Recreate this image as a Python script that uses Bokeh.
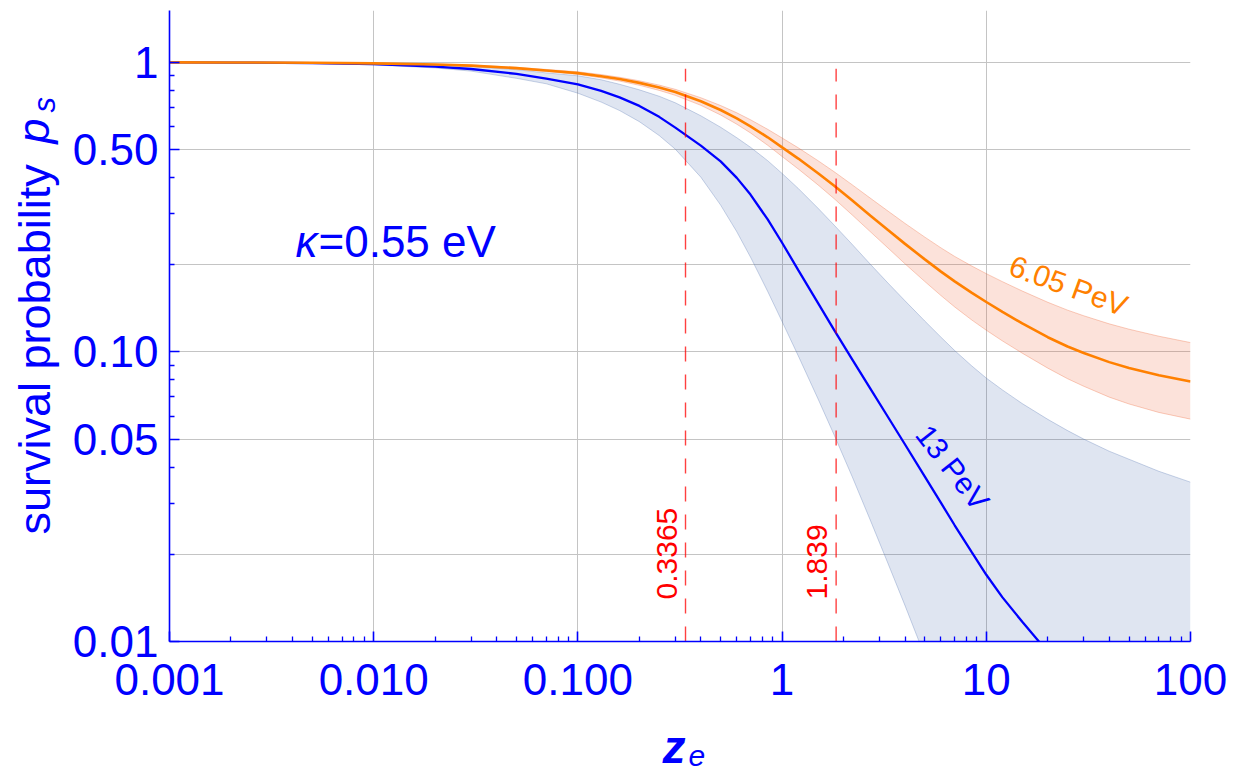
import math
from bokeh.plotting import figure
from bokeh.models import Range1d, FixedTicker, Label
from bokeh.layouts import row, column
from bokeh.embed import file_html
from bokeh.resources import INLINE

NaN = float("nan")

# ---------------- data ----------------
z_e = [0.001, 0.002, 0.005, 0.01, 0.02, 0.03, 0.05, 0.07, 0.1, 0.13, 0.16, 0.2, 0.25, 0.3,
       0.4, 0.5, 0.6, 0.7, 0.85, 1, 1.2, 1.5, 1.8, 2.2, 2.7, 3.3, 4, 5, 6, 7, 8.5, 10,
       12, 15, 20, 25, 30, 40, 50, 70, 100]

# 13 PeV: central curve and band
ps_13PeV = [1.0, 0.9982, 0.9943, 0.9851, 0.9660, 0.9484, 0.9120, 0.8790, 0.8396, 0.7966,
            0.7570, 0.7071, 0.6483, 0.5952, 0.5155, 0.4549, 0.3990, 0.3494, 0.2867, 0.2382,
            0.1917, 0.1474, 0.1190, 0.0945, 0.0748, 0.0596, 0.0479, 0.0371, 0.0301, 0.0252,
            0.0203, 0.0170, 0.0142, 0.0117, 0.0092, NaN, NaN, NaN, NaN, NaN, NaN]
ps_13PeV_hi = [1.0, 0.9992, 0.9976, 0.9921, 0.9796, 0.9680, 0.9430, 0.9194, 0.8984, 0.8705,
               0.8398, 0.8036, 0.7636, 0.7248, 0.6538, 0.5969, 0.5491, 0.5090, 0.4575, 0.4133,
               0.3668, 0.3134, 0.2739, 0.2355, 0.2011, 0.1729, 0.1501, 0.1278, 0.1124, 0.1011,
               0.0894, 0.0812, 0.0739, 0.0663, 0.0585, 0.0535, 0.0500, 0.0454, 0.0426, 0.0387,
               0.0355]
ps_13PeV_lo = [1.0, 0.9976, 0.9921, 0.9796, 0.9565, 0.9325, 0.8807, 0.8431, 0.7824, 0.7291,
               0.6815, 0.6240, 0.5588, 0.5012, 0.4013, 0.3213, 0.2599, 0.2126, 0.1618, 0.1273,
               0.0969, 0.0688, 0.0516, 0.0372, 0.0263, 0.0186, 0.0133, 0.0089, 0.0064, 0.0048,
               0.0034, 0.0025, 0.0018, 0.0012, 0.0007, 0.0005, 0.0003, 0.0002, 0.00013, 0.00007,
               0.00004]

# 6.05 PeV: central curve and band
ps_605PeV = [1.0, 0.9988, 0.9966, 0.9920, 0.9829, 0.9739, 0.9550, 0.9376, 0.9180, 0.8957,
             0.8754, 0.8492, 0.8187, 0.7897, 0.7340, 0.6844, 0.6402, 0.6012, 0.5510, 0.5087,
             0.4652, 0.4142, 0.3747, 0.3338, 0.2960, 0.2636, 0.2361, 0.2087, 0.1893, 0.1752,
             0.1600, 0.1487, 0.1374, 0.1254, 0.1124, 0.1044, 0.0991, 0.0922, 0.0880, 0.0831,
             0.0790]
ps_605PeV_hi = [1.0, 0.9996, 0.9982, 0.9944, 0.9868, 0.9786, 0.9611, 0.9451, 0.9275, 0.9072,
                0.8880, 0.8635, 0.8344, 0.8068, 0.7547, 0.7093, 0.6693, 0.6335, 0.5871, 0.5481,
                0.5068, 0.4574, 0.4188, 0.3781, 0.3399, 0.3065, 0.2778, 0.2491, 0.2287, 0.2137,
                0.1979, 0.1863, 0.1748, 0.1623, 0.1484, 0.1394, 0.1333, 0.1250, 0.1198, 0.1133,
                0.1077]
ps_605PeV_lo = [1.0, 0.9980, 0.9950, 0.9896, 0.9790, 0.9685, 0.9482, 0.9294, 0.9086, 0.8837,
                0.8616, 0.8332, 0.8001, 0.7692, 0.7105, 0.6578, 0.6114, 0.5705, 0.5171, 0.4729,
                0.4283, 0.3772, 0.3380, 0.2975, 0.2603, 0.2285, 0.2014, 0.1750, 0.1565, 0.1430,
                0.1288, 0.1188, 0.1091, 0.0990, 0.0879, 0.0808, 0.0761, 0.0698, 0.0661, 0.0618,
                0.0586]

z_marks = [0.3365, 1.839]
z_mark_labels = ["0.3365", "1.839"]
mark_bottom = [0.01, 0.01]
mark_top = [0.95, 0.95]

x_ticks = [0.001, 0.01, 0.1, 1, 10, 100]
x_tick_labels = ["0.001", "0.010", "0.100", "1", "10", "100"]
x_minor = [m * 10.0 ** e for e in range(-3, 2) for m in range(2, 10)]
x_grid = [0.01, 0.1, 1, 10, 100]

y_ticks = [0.01, 0.05, 0.1, 0.5, 1]
y_tick_labels = ["0.01", "0.05", "0.10", "0.50", "1"]
y_minor = [m * 10.0 ** e for e in (-2, -1) for m in range(2, 10) if m != 5]
y_grid = [0.02, 0.05, 0.1, 0.2, 0.5, 1]

# ---------------- styling ----------------
BLUE = "#0000ff"
ORANGE = "#ff8000"
RED = "#ff0000"
FONT = "Liberation Sans"

LEFT_W = 64
BOTTOM_H = 52
W, H = 1242, 772

p = figure(width=W - LEFT_W, height=H - BOTTOM_H, x_axis_type="log", y_axis_type="log",
           x_range=Range1d(0.001, 100), y_range=Range1d(0.01, 1.51),
           output_backend="svg", toolbar_location=None,
           min_border_left=105, min_border_right=52,
           min_border_top=10, min_border_bottom=79)
p.outline_line_color = None
p.background_fill_color = "white"
p.border_fill_color = "white"

for ax in (p.xaxis[0], p.yaxis[0]):
    ax.axis_line_color = BLUE
    ax.axis_line_width = 1.6
    ax.major_tick_line_color = BLUE
    ax.major_tick_line_width = 1.6
    ax.minor_tick_line_color = BLUE
    ax.minor_tick_line_width = 1.3
    ax.major_tick_in = 10
    ax.major_tick_out = 0
    ax.minor_tick_in = 5
    ax.minor_tick_out = 0
    ax.major_label_text_color = BLUE
    ax.major_label_text_font = FONT
    ax.major_label_text_font_size = "44px"

p.xaxis.ticker = FixedTicker(ticks=x_ticks, minor_ticks=x_minor)
p.xaxis.major_label_overrides = dict(zip(x_ticks, x_tick_labels))
p.xaxis.major_label_standoff = 22
p.yaxis.ticker = FixedTicker(ticks=y_ticks, minor_ticks=y_minor)
p.yaxis.major_label_overrides = dict(zip(y_ticks, y_tick_labels))
p.yaxis.major_label_standoff = 11

p.xgrid.ticker = FixedTicker(ticks=x_grid)
p.ygrid.ticker = FixedTicker(ticks=y_grid)
for g in (p.xgrid[0], p.ygrid[0]):
    g.grid_line_color = "#c4c4c4"
    g.grid_line_width = 1

# ---------------- bands ----------------
p.varea(x=z_e, y1=ps_13PeV_lo, y2=ps_13PeV_hi, fill_color="#2850a0", fill_alpha=0.15)
p.line(z_e, ps_13PeV_hi, line_color="#5070b0", line_alpha=0.3, line_width=1)
p.line(z_e, ps_13PeV_lo, line_color="#5070b0", line_alpha=0.3, line_width=1)

p.varea(x=z_e, y1=ps_605PeV_lo, y2=ps_605PeV_hi, fill_color="#f06030", fill_alpha=0.18)
p.line(z_e, ps_605PeV_hi, line_color="#f06030", line_alpha=0.3, line_width=1)
p.line(z_e, ps_605PeV_lo, line_color="#f06030", line_alpha=0.3, line_width=1)

# ---------------- curves ----------------
p.line(z_e, ps_13PeV, line_color=BLUE, line_width=2.3)
p.line(z_e, ps_605PeV, line_color=ORANGE, line_width=2.6)

# ---------------- dashed markers ----------------
p.segment(x0=z_marks, y0=mark_bottom, x1=z_marks, y1=mark_top,
          line_color=RED, line_alpha=0.75, line_width=1.4, line_dash="15 13")
for zm, txt in zip(z_marks, z_mark_labels):
    p.add_layout(Label(x=zm, y=42, x_units="data", y_units="screen", x_offset=-19,
                       text=txt, angle=math.pi / 2, text_align="left",
                       text_baseline="middle", text_font=FONT,
                       text_font_size="30px", text_color=RED))


def add_label(fig, text, x, y, size, color, style="normal", angle=0.0,
              align="left", baseline="middle", units="screen"):
    fig.add_layout(Label(x=x, y=y, x_units=units, y_units=units, text=text,
                         angle=angle, text_align=align, text_baseline=baseline,
                         text_font=FONT, text_font_size=size, text_font_style=style,
                         text_color=color))


# labels inside the frame (frame-relative screen units)
add_label(p, "6.05 PeV", 899, 356, "30px", ORANGE, angle=math.radians(-20), align="center")
add_label(p, "13 PeV", 783, 174, "30px", BLUE, angle=math.radians(-52), align="center")
add_label(p, "\u03ba", 126, 400, "44px", BLUE, style="italic")
add_label(p, "=0.55 eV", 149, 400, "44px", BLUE)

# ---------------- y-axis title strip ----------------
left = figure(width=LEFT_W, height=H, x_range=Range1d(0, LEFT_W), y_range=Range1d(H, 0),
              output_backend="svg", toolbar_location=None, min_border=0,
              x_axis_type=None, y_axis_type=None)
left.outline_line_color = None
left.background_fill_color = "white"
left.border_fill_color = "white"
add_label(left, "survival probability", 34, 534, "45px", BLUE, angle=math.pi / 2, units="data")
add_label(left, "p", 33, 143, "45px", BLUE, style="italic", angle=math.pi / 2, units="data")
add_label(left, "s", 44, 112, "31px", BLUE, style="italic", angle=math.pi / 2, units="data")

# ---------------- x-axis title strip (its frame is aligned with the main frame) ----------------
bottom = figure(width=W - LEFT_W, height=BOTTOM_H, x_range=Range1d(169, 1190),
                y_range=Range1d(H, H - BOTTOM_H),
                output_backend="svg", toolbar_location=None, min_border=0,
                x_axis_type=None, y_axis_type=None)
bottom.outline_line_color = None
bottom.background_fill_color = "white"
bottom.border_fill_color = "white"
add_label(bottom, "z", 662, 746, "46px", BLUE, style="bold italic", units="data")
add_label(bottom, "e", 688, 755, "30px", BLUE, style="italic", units="data")

layout = row(left, column(p, bottom))
open("out.html", "w").write(file_html(layout, INLINE))
